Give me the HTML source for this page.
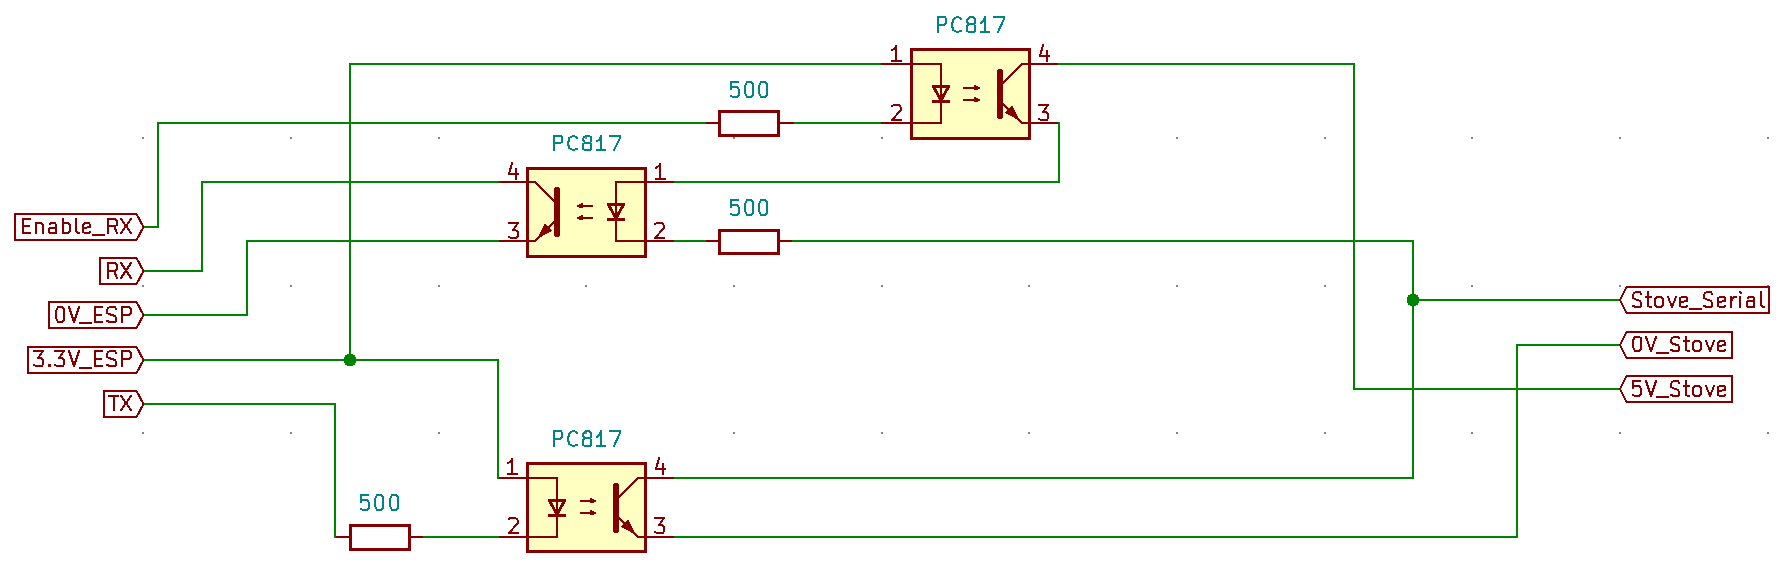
<!DOCTYPE html><html><head><meta charset="utf-8"><style>html,body{margin:0;padding:0;background:#fff;}svg{display:block;}</style></head><body>
<svg width="1779" height="576" viewBox="0 0 1779 576" shape-rendering="crispEdges">
<rect x="0" y="0" width="1779" height="576" fill="#ffffff"/>
<path d="M142,137h2v2h-2zM142,285h2v2h-2zM142,432h2v2h-2zM290,137h2v2h-2zM290,285h2v2h-2zM290,432h2v2h-2zM438,137h2v2h-2zM438,285h2v2h-2zM438,432h2v2h-2zM585,137h2v2h-2zM585,285h2v2h-2zM585,432h2v2h-2zM733,137h2v2h-2zM733,285h2v2h-2zM733,432h2v2h-2zM881,137h2v2h-2zM881,285h2v2h-2zM881,432h2v2h-2zM1028,137h2v2h-2zM1028,285h2v2h-2zM1028,432h2v2h-2zM1176,137h2v2h-2zM1176,285h2v2h-2zM1176,432h2v2h-2zM1324,137h2v2h-2zM1324,285h2v2h-2zM1324,432h2v2h-2zM1471,137h2v2h-2zM1471,285h2v2h-2zM1471,432h2v2h-2zM1619,137h2v2h-2zM1619,285h2v2h-2zM1619,432h2v2h-2zM1767,137h2v2h-2zM1767,285h2v2h-2zM1767,432h2v2h-2z" fill="#848484"/>
<g fill="none" stroke="#008400" stroke-width="2" stroke-linejoin="miter" stroke-linecap="square">
<path d="M143,227 L158,227 L158,123 L705,123"/>
<path d="M794,123 L882,123"/>
<path d="M882,64 L350,64 L350,360"/>
<path d="M143,360 L498,360 L498,478"/>
<path d="M143,271 L202,271 L202,182 L498,182"/>
<path d="M143,315 L247,315 L247,241 L498,241"/>
<path d="M143,404 L335,404 L335,537"/>
<path d="M424,537 L498,537"/>
<path d="M675,182 L1059,182 L1059,123"/>
<path d="M675,241 L705,241"/>
<path d="M792,241 L1413,241 L1413,478 L675,478"/>
<path d="M1413,300 L1620,300"/>
<path d="M1059,64 L1354,64 L1354,389 L1620,389"/>
<path d="M1620,345 L1517,345 L1517,537 L675,537"/>
</g>
<g fill="#008400">
<path d="M347,354h6v1h-6zM345,355h10v2h-10zM344,357h12v6h-12zM345,363h10v2h-10zM347,365h6v1h-6z"/>
<path d="M1410,294h6v1h-6zM1408,295h10v2h-10zM1407,297h12v6h-12zM1408,303h10v2h-10zM1410,305h6v1h-6z"/>
</g>
<path d="M706,123 H719.5 M778.5,123 H794" stroke="#840000" stroke-width="2" fill="none"/>
<rect x="719.5" y="111.5" width="59" height="24" fill="none" stroke="#840000" stroke-width="3"/>
<path d="M706,241 H719.5 M778.5,241 H792" stroke="#840000" stroke-width="2" fill="none"/>
<rect x="719.5" y="230.5" width="59" height="23" fill="none" stroke="#840000" stroke-width="3"/>
<path d="M336,537 H350.5 M409.5,537 H423" stroke="#840000" stroke-width="2" fill="none"/>
<rect x="350.5" y="525.5" width="59" height="24" fill="none" stroke="#840000" stroke-width="3"/>
<rect x="911.5" y="49.5" width="118" height="89" fill="#FFFFC2" stroke="#840000" stroke-width="3"/>
<path d="M881,64 H911.5 M881,123 H911.5 M1029.5,64 H1058 M1029.5,123 H1058" stroke="#840000" stroke-width="2" fill="none"/>
<path d="M911.5,64 H941 V123 H911.5" stroke="#840000" stroke-width="2" fill="none"/><path d="M933.5,86.5 H948.5 L941,100.5 Z M932,101.5 H950" stroke="#840000" stroke-width="3" fill="none" stroke-linejoin="round"/><path d="M963,87h17v2h-17zM974,85h2v5h-2zM976,86h2v4h-2z" fill="#840000"/><path d="M963,99h17v2h-17zM974,97h2v5h-2zM976,98h2v4h-2z" fill="#840000"/><path d="M1000,72 V116" stroke="#840000" stroke-width="6" stroke-linecap="round" fill="none"/><path d="M1000,86 L1022,64 H1029.5 M1000,101 L1022,123 H1029.5" stroke="#840000" stroke-width="2" fill="none"/><path d="M1006.5,112.5 L1012,107 L1017.5,118.5 Z" stroke="#840000" stroke-width="2" fill="#840000" stroke-linejoin="miter"/>
<rect x="527.5" y="168.5" width="118" height="88" fill="#FFFFC2" stroke="#840000" stroke-width="3"/>
<path d="M499,182 H527.5 M499,241 H527.5 M645.5,182 H674 M645.5,241 H674" stroke="#840000" stroke-width="2" fill="none"/>
<path d="M645.5,182 H616 V241 H645.5" stroke="#840000" stroke-width="2" fill="none"/><path d="M623.5,204.5 H608.5 L616,218.5 Z M625,219.5 H607" stroke="#840000" stroke-width="3" fill="none" stroke-linejoin="round"/><path d="M577,205h16v2h-16zM581,203h2v5h-2zM579,204h2v4h-2z" fill="#840000"/><path d="M577,217h16v2h-16zM581,215h2v5h-2zM579,216h2v4h-2z" fill="#840000"/><path d="M557,190 V234" stroke="#840000" stroke-width="6" stroke-linecap="round" fill="none"/><path d="M557,204 L535,182 H527.5 M557,219 L535,241 H527.5" stroke="#840000" stroke-width="2" fill="none"/><path d="M550.5,230.5 L545,225 L539.5,236.5 Z" stroke="#840000" stroke-width="2" fill="#840000" stroke-linejoin="miter"/>
<rect x="527.5" y="463.5" width="118" height="88" fill="#FFFFC2" stroke="#840000" stroke-width="3"/>
<path d="M499,478 H527.5 M499,537 H527.5 M645.5,478 H674 M645.5,537 H674" stroke="#840000" stroke-width="2" fill="none"/>
<path d="M527.5,478 H557 V537 H527.5" stroke="#840000" stroke-width="2" fill="none"/><path d="M549.5,500.5 H564.5 L557,514.5 Z M548,515.5 H566" stroke="#840000" stroke-width="3" fill="none" stroke-linejoin="round"/><path d="M580,500h16v2h-16zM590,498h2v5h-2zM592,499h2v4h-2z" fill="#840000"/><path d="M580,512h16v2h-16zM590,510h2v5h-2zM592,511h2v4h-2z" fill="#840000"/><path d="M616,486 V530" stroke="#840000" stroke-width="6" stroke-linecap="round" fill="none"/><path d="M616,500 L638,478 H645.5 M616,515 L638,537 H645.5" stroke="#840000" stroke-width="2" fill="none"/><path d="M622.5,526.5 L628,521 L633.5,532.5 Z" stroke="#840000" stroke-width="2" fill="#840000" stroke-linejoin="miter"/>
<g fill="none" stroke-width="2" stroke-linecap="round" stroke-linejoin="round">
<path d="M15,214 H136.5 L143.5,227 L136.5,240 H15 Z" fill="none" stroke="#840000" stroke-width="2" stroke-linejoin="miter"/>
<path d="M100,258 H136.5 L143.5,271 L136.5,284 H100 Z" fill="none" stroke="#840000" stroke-width="2" stroke-linejoin="miter"/>
<path d="M49,302 H136.5 L143.5,315 L136.5,328 H49 Z" fill="none" stroke="#840000" stroke-width="2" stroke-linejoin="miter"/>
<path d="M28,347 H136.5 L143.5,360 L136.5,373 H28 Z" fill="none" stroke="#840000" stroke-width="2" stroke-linejoin="miter"/>
<path d="M104,391 H136.5 L143.5,404 L136.5,417 H104 Z" fill="none" stroke="#840000" stroke-width="2" stroke-linejoin="miter"/>
<path d="M1769,287 H1626.5 L1620,300 L1626.5,313 H1769 Z" fill="none" stroke="#840000" stroke-width="2" stroke-linejoin="miter"/>
<path d="M1732,332 H1626.5 L1620,345 L1626.5,358 H1732 Z" fill="none" stroke="#840000" stroke-width="2" stroke-linejoin="miter"/>
<path d="M1732,376 H1626.5 L1620,389 L1626.5,402 H1732 Z" fill="none" stroke="#840000" stroke-width="2" stroke-linejoin="miter"/>
<g>
<path d="M 30,219 H 23 V 233 H 30 M 23,226 H 29 M 36,223 V 233 M 36,223 H 41 L 43,225 V 233 M 50,224 L 51,223 H 55 L 56,225 V 233 M 56,228 H 50 L 49,229 V 232 L 50,233 H 56 M 63,219 V 233 M 63,223 H 68 L 70,225 V 231 L 68,233 H 63 M 76,219 V 231 L 78,233 L 79,233 M 84,228 L 90,227 V 225 L 89,223 H 85 L 83,225 V 232 L 85,233 H 89 L 90,232 M93,235 H104.5 M 108,233 V 219 H 115 L 117,221 V 225 L 115,226 H 108 M 114,226 L 117,233 M 121,219 L 131,233 M 131,219 L 121,233" stroke="#840000"/>
</g>
<g>
<path d="M 108,278 V 263 H 115 L 117,265 V 269 L 115,271 H 108 M 114,271 L 117,278 M 121,263 L 131,278 M 131,263 L 121,278" stroke="#840000"/>
</g>
<g>
<path d="M 58,307 H 62 L 64,309 L 64,311 V 318 L 64,320 L 62,322 H 58 L 57,320 L 56,318 V 311 L 57,309 Z M 69,307 L 74,322 L 79,307 M80,323 H91.5 M 102,307 H 95 V 322 H 102 M 95,315 H 101 M 116,309 L 115,307 H 110 L 108,308 L 107,310 V 313 L 109,314 L 115,316 L 116,318 V 321 L 115,322 H 110 L 107,321 M 122,322 V 307 H 129 L 131,309 V 313 L 129,315 H 122" stroke="#840000"/>
</g>
<g>
<rect x="48" y="364" width="3" height="3" fill="#840000" stroke="none"/>
<path d="M 34,351 H 43 L 38,358 H 41 L 42,359 L 43,360 V 364 L 42,366 H 36 L 34,365 M 55,351 H 64 L 59,358 H 62 L 63,359 L 64,360 V 364 L 63,366 H 57 L 55,365 M 69,351 L 74,366 L 79,351 M80,368 H91.5 M 102,351 H 95 V 366 H 102 M 95,359 H 101 M 116,353 L 115,351 H 110 L 108,352 L 107,354 V 357 L 109,358 L 115,360 L 116,362 V 365 L 115,366 H 110 L 107,365 M 122,366 V 351 H 129 L 131,353 V 357 L 129,359 H 122" stroke="#840000"/>
</g>
<g>
<path d="M 109,396 H 118 M 114,396 V 410 M 121,396 L 131,410 M 131,396 L 121,410" stroke="#840000"/>
</g>
<g>
<path d="M 1641,294 L 1640,292 H 1636 L 1634,293 L 1633,295 V 298 L 1635,299 L 1640,301 L 1641,303 V 306 L 1640,307 H 1636 L 1633,306 M 1648,292 V 306 L 1650,307 H 1651 M 1646,297 H 1651 M 1657,297 H 1661 L 1663,299 V 305 L 1661,307 H 1657 L 1655,305 V 299 Z M 1668,297 L 1672,307 L 1676,297 M 1681,302 L 1687,301 V 298 L 1686,297 H 1682 L 1680,298 V 306 L 1682,307 H 1686 L 1687,306 M1690,309 H1701.5 M 1712,294 L 1711,292 H 1707 L 1705,293 L 1704,295 V 298 L 1706,299 L 1711,301 L 1712,303 V 306 L 1711,307 H 1707 L 1704,306 M 1719,302 L 1725,301 V 298 L 1724,297 H 1720 L 1718,298 V 306 L 1720,307 H 1724 L 1725,306 M 1731,297 V 307 M 1731,301 L 1733,298 L 1734,297 H 1736 M 1740,297 V 307 M 1740,292 L 1741,293 M 1748,298 L 1749,297 H 1753 L 1754,298 V 307 M 1754,301 H 1748 L 1747,302 V 306 L 1748,307 H 1754 M 1761,292 V 305 L 1763,307 L 1764,307" stroke="#840000"/>
</g>
<g>
<path d="M 1635,337 H 1639 L 1641,338 L 1641,341 V 347 L 1641,349 L 1639,351 H 1635 L 1634,349 L 1633,347 V 341 L 1634,338 Z M 1646,337 L 1651,351 L 1656,337 M1657,353 H1668.5 M 1679,338 L 1678,337 H 1674 L 1672,338 L 1671,340 V 342 L 1673,344 L 1678,345 L 1679,347 V 350 L 1678,351 H 1674 L 1671,350 M 1686,337 V 350 L 1688,351 H 1689 M 1684,341 H 1689 M 1695,341 H 1699 L 1701,343 V 349 L 1699,351 H 1695 L 1693,349 V 343 Z M 1706,341 L 1710,351 L 1714,341 M 1719,346 L 1725,345 V 343 L 1724,341 H 1720 L 1718,343 V 350 L 1720,351 H 1724 L 1725,350" stroke="#840000"/>
</g>
<g>
<path d="M 1640,381 H 1633 V 388 M 1634,386 H 1639 L 1640,387 L 1641,389 V 394 L 1640,395 L 1639,396 H 1635 L 1633,395 M 1646,381 L 1651,396 L 1656,381 M1657,397 H1668.5 M 1679,383 L 1678,381 H 1674 L 1672,382 L 1671,384 V 387 L 1673,388 L 1678,390 L 1679,392 V 395 L 1678,396 H 1674 L 1671,395 M 1686,381 V 395 L 1688,396 H 1689 M 1684,386 H 1689 M 1695,386 H 1699 L 1701,388 V 394 L 1699,396 H 1695 L 1693,394 V 388 Z M 1706,386 L 1710,396 L 1714,386 M 1719,391 L 1725,390 V 387 L 1724,386 H 1720 L 1718,387 V 395 L 1720,396 H 1724 L 1725,395" stroke="#840000"/>
</g>
<g>
<path d="M 938,32 V 17 H 945 L 946,19 V 23 L 944,25 H 938 M 961,19 L 960,18 L 958,17 H 957 L 955,18 L 953,20 V 22 L 952,23 V 27 L 953,28 V 30 L 955,31 L 957,32 H 958 L 960,31 H 961 M 970,17 H 973 L 975,19 V 23 L 974,24 H 969 L 968,23 L 967,22 V 20 L 968,19 Z M 969,24 L 967,26 V 31 L 969,32 H 974 L 975,31 V 26 L 974,24 M 981,23 L 983,21 L 984,19 L 985,17 V 32 M 981,32 H 989 M 994,17 H 1004 V 19 L 998,32" stroke="#008484"/>
</g>
<g>
<path d="M 554,150 V 136 H 561 L 562,137 V 142 L 560,143 H 554 M 577,138 L 576,137 L 574,136 H 573 L 571,137 L 569,138 V 141 L 568,142 V 145 L 569,146 V 148 L 571,149 L 573,150 H 574 L 576,149 H 577 M 586,136 H 589 L 591,137 V 141 L 590,143 H 585 L 584,141 L 583,140 V 139 L 584,137 Z M 585,143 L 583,144 V 149 L 585,150 H 590 L 591,149 V 144 L 590,143 M 597,141 L 599,140 L 600,138 L 601,136 V 150 M 597,150 H 605 M 610,136 H 620 V 138 L 614,150" stroke="#008484"/>
</g>
<g>
<path d="M 554,446 V 431 H 561 L 562,433 V 437 L 560,439 H 554 M 577,433 L 576,432 L 574,431 H 573 L 571,432 L 569,434 V 436 L 568,437 V 441 L 569,442 V 444 L 571,445 L 573,446 H 574 L 576,445 H 577 M 586,431 H 589 L 591,433 V 437 L 590,438 H 585 L 584,437 L 583,436 V 434 L 584,433 Z M 585,438 L 583,440 V 445 L 585,446 H 590 L 591,445 V 440 L 590,438 M 597,437 L 599,435 L 600,433 L 601,431 V 446 M 597,446 H 605 M 610,431 H 620 V 433 L 614,446" stroke="#008484"/>
</g>
<g>
<path d="M 738,82 H 731 V 89 M 732,87 H 737 L 738,88 L 739,90 V 95 L 738,96 L 737,97 H 733 L 731,96 M 747,82 H 751 L 753,84 L 753,86 V 93 L 753,95 L 751,97 H 747 L 746,95 L 745,93 V 86 L 746,84 Z M 761,82 H 765 L 767,84 L 767,86 V 93 L 767,95 L 765,97 H 761 L 760,95 L 759,93 V 86 L 760,84 Z" stroke="#008484"/>
</g>
<g>
<path d="M 738,200 H 731 V 207 M 732,205 H 737 L 738,206 L 739,208 V 213 L 738,214 L 737,215 H 733 L 731,214 M 747,200 H 751 L 753,202 L 753,204 V 211 L 753,213 L 751,215 H 747 L 746,213 L 745,211 V 204 L 746,202 Z M 761,200 H 765 L 767,202 L 767,204 V 211 L 767,213 L 765,215 H 761 L 760,213 L 759,211 V 204 L 760,202 Z" stroke="#008484"/>
</g>
<g>
<path d="M 368,495 H 361 V 502 M 362,500 H 367 L 368,501 L 369,503 V 508 L 368,509 L 367,510 H 363 L 361,509 M 377,495 H 381 L 383,497 L 383,499 V 506 L 383,508 L 381,510 H 377 L 376,508 L 375,506 V 499 L 376,497 Z M 392,495 H 396 L 398,497 L 398,499 V 506 L 398,508 L 396,510 H 392 L 391,508 L 390,506 V 499 L 391,497 Z" stroke="#008484"/>
</g>
<g>
<path d="M 892,50 L 894,49 L 895,48 L 896,46 V 61 M 892,61 H 901" stroke="#840000"/>
</g>
<g>
<path d="M 892,106 L 894,105 H 899 L 900,106 L 901,108 V 110 L 900,111 L 892,120 H 901" stroke="#840000"/>
</g>
<g>
<path d="M 1043,45 L 1040,56 H 1049 M 1047,51 V 61" stroke="#840000"/>
</g>
<g>
<path d="M 1039,105 H 1048 L 1043,112 H 1046 L 1047,113 L 1048,114 V 118 L 1047,120 H 1041 L 1039,119" stroke="#840000"/>
</g>
<g>
<path d="M 512,163 L 509,174 H 518 M 516,169 V 179" stroke="#840000"/>
</g>
<g>
<path d="M 509,223 H 518 L 513,230 H 515 L 517,231 L 518,232 V 236 L 516,238 H 511 L 509,237" stroke="#840000"/>
</g>
<g>
<path d="M 656,168 L 657,167 L 659,166 L 660,164 V 179 M 656,179 H 665" stroke="#840000"/>
</g>
<g>
<path d="M 655,224 L 657,223 H 662 L 663,224 L 664,226 V 228 L 663,229 L 655,238 H 664" stroke="#840000"/>
</g>
<g>
<path d="M 508,463 L 510,462 L 511,461 L 512,459 V 474 M 508,474 H 517" stroke="#840000"/>
</g>
<g>
<path d="M 509,519 L 510,518 H 515 L 517,519 L 518,521 V 523 L 517,524 L 509,533 H 518" stroke="#840000"/>
</g>
<g>
<path d="M 659,458 L 656,469 H 665 M 663,464 V 474" stroke="#840000"/>
</g>
<g>
<path d="M 655,518 H 664 L 659,525 H 662 L 663,526 L 664,527 V 531 L 663,533 H 657 L 655,532" stroke="#840000"/>
</g>
</g>
</svg></body></html>
